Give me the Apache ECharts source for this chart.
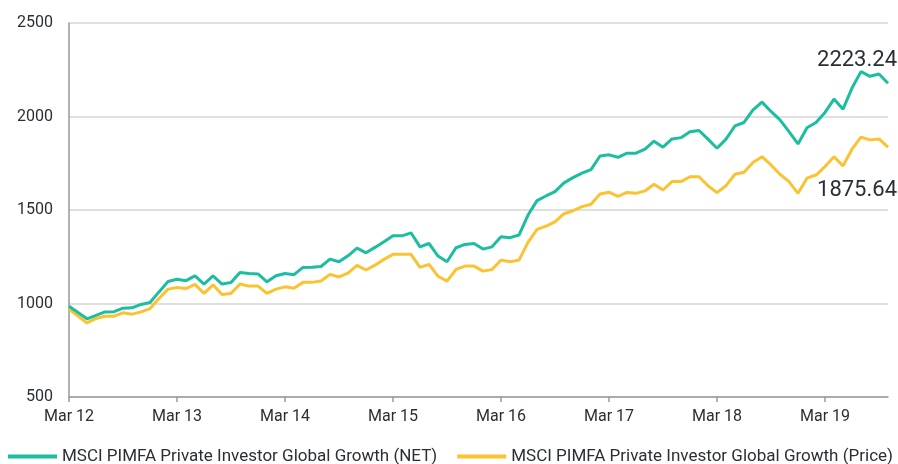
<!DOCTYPE html>
<html>
<head>
<meta charset="utf-8">
<script src="https://cdn.jsdelivr.net/npm/echarts@6/dist/echarts.min.js"></script>
<style>
  html, body { margin: 0; padding: 0; background: #fff; }
  #chart { width: 898px; height: 464px; }
</style>
</head>
<body>
<div id="chart"></div>
<script>
// month labels, Mar 12 .. Oct 19
const monthNames = ["Jan", "Feb", "Mar", "Apr", "May", "Jun", "Jul", "Aug", "Sep", "Oct", "Nov", "Dec"];
const categories = [];
for (let i = 0; i < 92; i++) {
  const m = (2 + i) % 12;
  const y = 12 + Math.floor((2 + i) / 12);
  categories.push(monthNames[m] + " " + y);
}

const netValues = [
  985, 952, 918, 937, 955, 956, 975, 977, 995, 1005, 1062, 1118,
  1130, 1122, 1148, 1104, 1148, 1104, 1112, 1166, 1160, 1158, 1116, 1148,
  1160, 1154, 1193, 1194, 1198, 1237, 1223, 1255, 1296, 1271, 1300, 1330,
  1362, 1362, 1378, 1303, 1321, 1254, 1223, 1298, 1316, 1321, 1291, 1303,
  1357, 1352, 1366, 1473, 1550, 1575, 1598, 1645, 1673, 1697, 1716, 1789,
  1795, 1782, 1804, 1804, 1825, 1868, 1836, 1880, 1887, 1919, 1925, 1879,
  1830, 1879, 1950, 1968, 2036, 2077, 2027, 1982, 1919, 1853, 1940, 1968,
  2022, 2093, 2039, 2152, 2240, 2215, 2227, 2178
];

const priceValues = [
  970, 933, 896, 920, 932, 932, 950, 943, 955, 973, 1027, 1077,
  1086, 1080, 1102, 1054, 1100, 1048, 1054, 1104, 1093, 1093, 1054, 1077,
  1089, 1082, 1113, 1113, 1120, 1156, 1142, 1163, 1204, 1179, 1205, 1236,
  1263, 1263, 1263, 1193, 1209, 1146, 1120, 1182, 1200, 1200, 1173, 1182,
  1232, 1223, 1232, 1327, 1396, 1414, 1437, 1480, 1496, 1518, 1531, 1586,
  1595, 1573, 1594, 1589, 1602, 1638, 1607, 1652, 1652, 1678, 1678, 1630,
  1593, 1630, 1691, 1702, 1754, 1785, 1741, 1691, 1652, 1589, 1670, 1687,
  1732, 1785, 1736, 1825, 1890, 1875, 1880, 1836
];

const seriesNames = [
  "MSCI PIMFA Private Investor Global Growth (NET)",
  "MSCI PIMFA Private Investor Global Growth (Price)"
];
const endLabels = ["2223.24", "1875.64"];

const font = "Roboto, 'Noto Sans', sans-serif";
const chart = echarts.init(document.getElementById("chart"));

chart.setOption({
  animation: false,
  grid: { left: 69, right: 10, top: 23, bottom: 67 },
  legend: {
    top: 448,
    left: 8,
    padding: 0,
    itemGap: 20,
    itemWidth: 49,
    itemHeight: 4,
    icon: "rect",
    textStyle: { fontFamily: font, fontSize: 17, color: "#2a2f36" },
    data: seriesNames
  },
  xAxis: {
    type: "category",
    boundaryGap: false,
    data: categories,
    axisLine: { lineStyle: { color: "#999", width: 1.5 } },
    axisTick: { interval: 11, length: 5, lineStyle: { color: "#999", width: 1.5 } },
    axisLabel: {
      interval: 11,
      margin: 12,
      fontFamily: font,
      fontSize: 16,
      color: "#2a2f36"
    }
  },
  yAxis: {
    type: "value",
    min: 500,
    max: 2500,
    interval: 500,
    axisLine: { show: true, lineStyle: { color: "#999", width: 1.5 } },
    axisTick: { show: false },
    axisLabel: { margin: 16, fontFamily: font, fontSize: 16, color: "#2a2f36", formatter: v => String(v) },
    splitLine: { lineStyle: { color: "#d6d6d6", width: 1.5 } }
  },
  series: [
    {
      name: seriesNames[0],
      type: "line",
      data: netValues,
      showSymbol: false,
      color: "#1dbd9f",
      lineStyle: { width: 3 },
      z: 3
    },
    {
      name: seriesNames[1],
      type: "line",
      data: priceValues,
      showSymbol: false,
      color: "#fbc232",
      lineStyle: { width: 3 },
      z: 2
    }
  ],
  graphic: [
    {
      type: "text",
      x: 897,
      y: 60,
      style: { text: endLabels[0], font: "22px " + font, fill: "#2a2f36", textAlign: "right", textVerticalAlign: "middle" }
    },
    {
      type: "text",
      x: 897,
      y: 190,
      style: { text: endLabels[1], font: "22px " + font, fill: "#2a2f36", textAlign: "right", textVerticalAlign: "middle" }
    }
  ]
});
</script>
</body>
</html>
